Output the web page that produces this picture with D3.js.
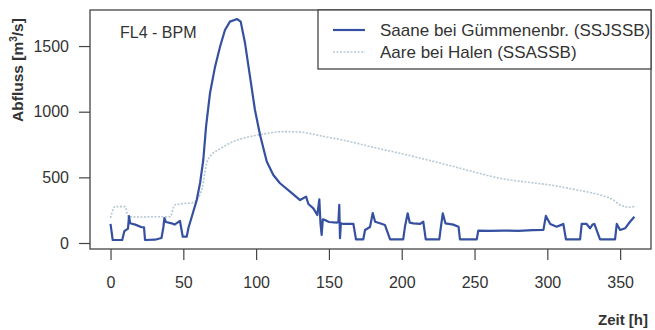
<!DOCTYPE html>
<html>
<head>
<meta charset="utf-8">
<script src="https://cdn.jsdelivr.net/npm/d3@7"></script>
<style>
  body { margin: 0; background: #fff; }
  text { font-family: "Liberation Sans", Arial, sans-serif; fill: #333; }
</style>
</head>
<body>
<script>
// hourly discharge

var saaneHours = [0, 1.5, 8, 9.5, 12, 12.7, 13.5, 17, 21.4, 23, 23.7, 30.5, 35, 36.3, 37, 38, 42, 44, 47.7, 49.6,
  52.3, 53.5, 55.8, 59.2, 61.5, 63.7, 65.6, 68.3, 71.8, 75.2, 78.6, 82, 87, 89.4, 92.4, 95.8, 99.2, 102.7, 107.3,
  111.8, 116.4, 123.3, 130.2, 134.3, 135.9, 139.3, 142, 143.4, 144.2, 145, 145.8, 147.3, 150, 155.3, 156.5, 157.1,
  157.6, 158.2, 160, 166.8, 168.6, 173.6, 174.8, 178.2, 180.1, 181.7, 185, 188.5, 192, 201, 202.3, 204.1, 205.5,
  208, 212.6, 214.8, 216.5, 225.8, 227, 228.2, 230, 235.4, 239, 240, 251.5, 252.6, 260, 270, 280, 290, 297.3, 299,
  302, 306.4, 310, 311, 312.8, 322.5, 323.6, 327, 329.3, 331, 332.3, 336.2, 346.5, 347.7, 350, 353.4, 356.8, 359.8];
var saaneFlow = [145, 23, 23, 90, 110, 205, 150, 140, 120, 120, 23, 25, 38, 120, 190, 160, 150, 140, 168, 48,
  48, 114, 200, 327, 457, 632, 886, 1140, 1343, 1495, 1622, 1686, 1706, 1686, 1521, 1267, 1013, 822, 620,
  518, 455, 391, 327, 353, 297, 264, 213, 333, 150, 61, 180, 175, 160, 155, 160, 290,
  36, 150, 145, 145, 28, 28, 99, 122, 228, 162, 150, 137, 28, 28, 130, 226, 155,
  150, 145, 162, 28, 28, 130, 226, 150, 140, 124, 28, 28, 94, 92, 95, 92, 98, 100, 206,
  145, 124, 140, 145, 28, 28, 145, 145, 112, 140, 145, 28, 28, 145, 99, 112, 162, 200];

var aareHours = [0, 1, 3, 10, 12.2, 20, 30, 41, 44, 50, 55.8, 60, 63, 66, 70, 74, 80, 84.3, 90, 95.8, 105, 118.7,
  130, 145, 164.5, 180, 198.8, 215, 233, 250, 267.5, 285, 301.8, 320, 336.2, 345, 350, 356.8, 360];
var aareFlow = [190, 230, 277, 277, 200, 198, 200, 200, 290, 300, 305, 340, 420, 607, 680, 708, 750, 772, 795, 810, 830, 848,
  845, 815, 772, 730, 683, 640, 590, 540, 493, 465, 442, 405, 366, 330, 290, 272, 282];

var xTicks = [0, 50, 100, 150, 200, 250, 300, 350];
var yTicks = [0, 500, 1000, 1500];
var seriesNames = ["Saane bei Gümmenenbr. (SSJSSB)", "Aare bei Halen (SSASSB)"];

var saaneColor = "#3550a0";
var aareColor = "#b6c8d4";

var svg = d3.select("body").append("svg")
    .attr("width", 655)
    .attr("height", 330);

var box = { left: 90, top: 10, right: 651, bottom: 249 };

var x = d3.scaleLinear().domain([-14.1, 371.2]).range([box.left, box.right]);
var y = d3.scaleLinear().domain([-45.7, 1774.6]).range([box.bottom, box.top]);

// axes
svg.append("g")
    .attr("transform", "translate(0," + box.bottom + ")")
    .call(d3.axisBottom(x).tickValues(xTicks).tickFormat(d3.format("d")).tickSize(11).tickPadding(17))
    .call(function (g) { g.select(".domain").remove(); })
    .call(function (g) {
        g.selectAll("line").attr("stroke", "#444").attr("stroke-width", 1.2);
        g.selectAll("text").attr("font-size", 16).attr("fill", "#333")
            .attr("font-family", "Liberation Sans, Arial, sans-serif");
    });

svg.append("g")
    .attr("transform", "translate(" + box.left + ",0)")
    .call(d3.axisLeft(y).tickValues(yTicks).tickFormat(d3.format("d")).tickSize(11).tickPadding(10))
    .call(function (g) { g.select(".domain").remove(); })
    .call(function (g) {
        g.selectAll("line").attr("stroke", "#444").attr("stroke-width", 1.2);
        g.selectAll("text").attr("font-size", 16).attr("fill", "#333")
            .attr("font-family", "Liberation Sans, Arial, sans-serif");
    });

// data lines
var aareLine = d3.line()
    .x(function (d) { return x(aareHours[d]); })
    .y(function (d) { return y(aareFlow[d]); })
    .curve(d3.curveMonotoneX);

svg.append("path")
    .attr("d", aareLine(d3.range(aareHours.length)))
    .attr("fill", "none")
    .attr("stroke", aareColor)
    .attr("stroke-width", 1.6)
    .attr("stroke-dasharray", "2,1.5");

var saaneLine = d3.line()
    .x(function (d) { return x(saaneHours[d]); })
    .y(function (d) { return y(saaneFlow[d]); });

svg.append("path")
    .attr("d", saaneLine(d3.range(saaneHours.length)))
    .attr("fill", "none")
    .attr("stroke", saaneColor)
    .attr("stroke-width", 2.2)
    .attr("stroke-linejoin", "round");

// plot frame
svg.append("rect")
    .attr("x", box.left).attr("y", box.top)
    .attr("width", box.right - box.left).attr("height", box.bottom - box.top)
    .attr("fill", "none").attr("stroke", "#444").attr("stroke-width", 1.3);

// titles
svg.append("text")
    .attr("x", 120).attr("y", 38)
    .attr("font-size", 16)
    .text("FL4 - BPM");

var ylab = svg.append("text")
    .attr("transform", "translate(23,70) rotate(-90)")
    .attr("text-anchor", "middle")
    .attr("font-size", 15.5)
    .attr("font-weight", "bold");
ylab.append("tspan").text("Abfluss [m");
ylab.append("tspan").attr("font-size", 10).attr("dy", -6).text("3");
ylab.append("tspan").attr("dy", 6).text("/s]");

svg.append("text")
    .attr("x", 648).attr("y", 325)
    .attr("text-anchor", "end")
    .attr("font-size", 15)
    .attr("font-weight", "bold")
    .text("Zeit [h]");

// legend
var legend = svg.append("g");
legend.append("rect")
    .attr("x", 318).attr("y", box.top)
    .attr("width", box.right - 318).attr("height", 59)
    .attr("fill", "#fff").attr("stroke", "#444").attr("stroke-width", 1.3);

var legendY = [30, 52];
legend.selectAll("line.key")
    .data(seriesNames)
    .enter().append("line")
    .attr("class", "key")
    .attr("x1", 333).attr("x2", 365)
    .attr("y1", function (d, i) { return legendY[i]; })
    .attr("y2", function (d, i) { return legendY[i]; })
    .attr("stroke", function (d, i) { return i == 0 ? saaneColor : aareColor; })
    .attr("stroke-width", function (d, i) { return i == 0 ? 2.2 : 1.6; })
    .attr("stroke-dasharray", function (d, i) { return i == 0 ? null : "2,1.5"; });

legend.selectAll("text.key")
    .data(seriesNames)
    .enter().append("text")
    .attr("class", "key")
    .attr("x", 380)
    .attr("y", function (d, i) { return legendY[i] + 6; })
    .attr("font-size", 17)
    .text(function (d) { return d; });
</script>
</body>
</html>
